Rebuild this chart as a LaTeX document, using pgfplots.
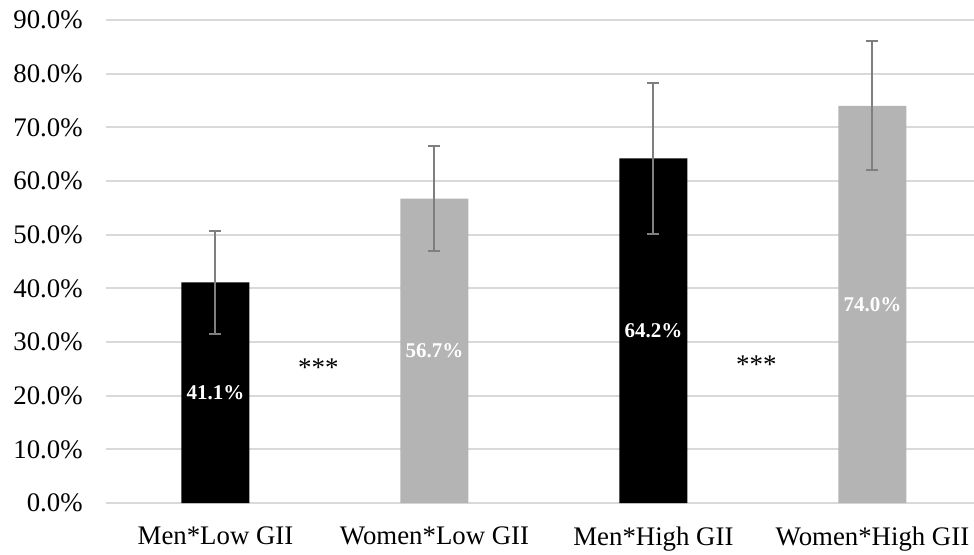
\documentclass[border=0pt]{standalone}
\usepackage{pgfplots}
\pgfplotsset{compat=1.18}
\usepackage{fontspec}
\setmainfont{Liberation Serif}
\definecolor{gridc}{HTML}{D9D9D9}
\definecolor{barg}{HTML}{B4B4B4}
\definecolor{errc}{HTML}{7F7F7F}
\begin{document}
\begin{tikzpicture}
\useasboundingbox (-53pt,-25.5pt) rectangle (434pt,251.5pt);
\begin{axis}[
  scale only axis,
  width=434pt, height=241.5pt,
  xmin=-0.5, xmax=3.464,
  ymin=0, ymax=90,
  ytick={0,10,...,90},
  xtick={0,1,2,3},
  xticklabels={Men*Low GII, Women*Low GII, Men*High GII, Women*High GII},
  axis line style={draw=none},
  tick style={draw=none},
  ymajorgrids,
  grid style={gridc, line width=1pt},
  /pgf/number format/assume math mode=true,
  yticklabel={\pgfmathprintnumber[fixed,fixed zerofill,precision=1]{\tick}\%},
  ticklabel style={font=\fontsize{13.4}{15}\selectfont},
  yticklabel style={inner sep=0pt, anchor=east, xshift=-11.5pt},
  xticklabel style={inner sep=0pt, anchor=north, yshift=-11.5pt},
  bar width=34pt,
  clip=false,
]
\addplot[ybar, bar shift=0pt, fill=black, draw=none,
  error bars/.cd, y dir=both, y explicit,
  error bar style={errc, line width=1pt},
  error mark options={errc, line width=1pt, rotate=90, mark size=3pt}]
  coordinates {(0,41.1) +- (0,9.6) (2,64.2) +- (0,14.0)};
\addplot[ybar, bar shift=0pt, fill=barg, draw=none,
  error bars/.cd, y dir=both, y explicit,
  error bar style={errc, line width=1pt},
  error mark options={errc, line width=1pt, rotate=90, mark size=3pt}]
  coordinates {(1,56.7) +- (0,9.8) (3,74.0) +- (0,12.0)};
\addplot[only marks, mark=none, point meta=explicit symbolic,
  nodes near coords,
  nodes near coords style={anchor=center, text=white, font=\fontsize{10.5}{12}\selectfont\bfseries, inner sep=0pt}]
  coordinates {(0,20.55)[41.1\%] (1,28.35)[56.7\%] (2,32.1)[64.2\%] (3,37.0)[74.0\%]};
\addplot[only marks, mark=none, point meta=explicit symbolic,
  nodes near coords,
  nodes near coords style={anchor=base, text=black, font=\fontsize{13.5}{15}\selectfont, inner sep=0pt}]
  coordinates {(0.47,23.5)[***] (2.47,24.2)[***]};
\end{axis}
\end{tikzpicture}
\end{document}
